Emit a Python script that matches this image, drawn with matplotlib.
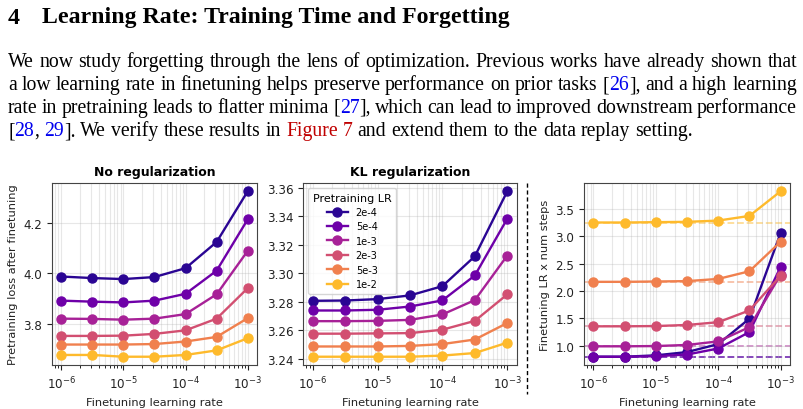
import matplotlib
matplotlib.use('Agg')
import matplotlib.pyplot as plt
from matplotlib.lines import Line2D

# finetuning learning rates (x axis) and pretraining learning rates (series)
ft_lr = [1e-6, 3.16e-6, 1e-5, 3.16e-5, 1e-4, 3.16e-4, 1e-3]
pre_lr = ['2e-4', '5e-4', '1e-3', '2e-3', '5e-3', '1e-2']

# pretraining loss after finetuning, no regularization
loss_noreg = [
    [3.988, 3.982, 3.978, 3.986, 4.021, 4.124, 4.324],
    [3.893, 3.889, 3.886, 3.893, 3.920, 4.011, 4.213],
    [3.822, 3.821, 3.818, 3.822, 3.840, 3.918, 4.089],
    [3.754, 3.754, 3.755, 3.762, 3.776, 3.822, 3.942],
    [3.720, 3.720, 3.720, 3.722, 3.732, 3.750, 3.824],
    [3.679, 3.679, 3.672, 3.672, 3.679, 3.697, 3.745],
]

# pretraining loss after finetuning, KL regularization
loss_kl = [
    [3.2807, 3.2809, 3.2819, 3.2845, 3.2910, 3.3120, 3.3577],
    [3.2739, 3.2739, 3.2744, 3.2767, 3.2810, 3.2985, 3.3384],
    [3.2664, 3.2664, 3.2666, 3.2673, 3.2711, 3.2812, 3.3125],
    [3.2576, 3.2576, 3.2578, 3.2580, 3.2604, 3.2666, 3.2852],
    [3.2486, 3.2486, 3.2486, 3.2490, 3.2503, 3.2535, 3.2651],
    [3.2414, 3.2414, 3.2414, 3.2414, 3.2422, 3.2440, 3.2513],
]

# finetuning LR x num steps
lr_steps = [
    [0.80, 0.80, 0.825, 0.885, 1.03, 1.495, 3.06],
    [0.80, 0.80, 0.81, 0.84, 0.95, 1.25, 2.44],
    [0.99, 0.99, 0.995, 1.015, 1.08, 1.34, 2.30],
    [1.355, 1.355, 1.36, 1.38, 1.43, 1.645, 2.28],
    [2.167, 2.167, 2.173, 2.18, 2.22, 2.36, 2.90],
    [3.25, 3.25, 3.256, 3.262, 3.285, 3.37, 3.82],
]

cmap = plt.get_cmap('plasma')
colors = [cmap(0.05 + 0.16 * i) for i in range(len(pre_lr))]

W, H = 804, 410
fig = plt.figure(figsize=(W / 100, H / 100), dpi=100)
renderer = fig.canvas.get_renderer()


def fpos(x, y):
    return x / W, 1 - y / H


def width(t):
    return t.get_window_extent(renderer).width


# ---- section heading and paragraph ----
head = dict(family='Liberation Serif', fontsize=17.2, weight='bold', va='baseline')
fig.text(*fpos(8, 23.5), '4', **head)
fig.text(*fpos(42, 23.5), 'Learning Rate: Training Time and Forgetting', **head)

K, B, R = 'black', '#0000ee', '#c00000'
para = [
    [('We now study forgetting through the lens of optimization. Previous works have already shown that', K)],
    [('a low learning rate in finetuning helps preserve performance on prior tasks [', K), ('26', B),
     ('], and a high learning', K)],
    [('rate in pretraining leads to flatter minima [', K), ('27', B),
     ('], which can lead to improved downstream performance', K)],
    [('[', K), ('28', B), (', ', K), ('29', B), ('].  We verify these results in ', K), ('Figure 7', R),
     (' and extend them to the data replay setting.', K)],
]
body = dict(family='Liberation Serif', fontsize=14.2, va='baseline')


def split_words(segs):
    words, cur = [], []
    for text, color in segs:
        for i, p in enumerate(text.split(' ')):
            if i > 0 and cur:
                words.append(cur)
                cur = []
            if p:
                cur.append((p, color))
    if cur:
        words.append(cur)
    return words


t1 = fig.text(0, 0, 'a a', **body)
t2 = fig.text(0, 0, 'aa', **body)
space = width(t1) - width(t2)
t1.remove()
t2.remove()

# justified lines, the last one left aligned
x_left, x_right = 8, 797
for li, segs in enumerate(para):
    y = 67 + 23 * li
    words = split_words(segs)
    placed = []
    for w in words:
        pieces = [(fig.text(0, 0, s, color=c, **body)) for s, c in w]
        placed.append(pieces)
    wsum = [sum(width(p) for p in pieces) for pieces in placed]
    if li < len(para) - 1:
        gap = (x_right - x_left - sum(wsum)) / (len(words) - 1)
    else:
        gap = space
    x = x_left
    for pieces, ww in zip(placed, wsum):
        xx = x
        for p in pieces:
            p.set_position(fpos(xx, y))
            xx += width(p)
        x += ww + gap

# ---- plots ----
axes_px = [(52, 257), (303, 517), (584, 790)]
top, bottom = 184, 366
axs = []
for l, r in axes_px:
    axs.append(fig.add_axes([l / W, 1 - bottom / H, (r - l) / W, (bottom - top) / H]))

for ax, data in zip(axs, [loss_noreg, loss_kl, lr_steps]):
    for vals, lab, c in zip(data, pre_lr, colors):
        ax.plot(ft_lr, vals, '-o', color=c, lw=1.7, ms=6.5, label=lab)
    ax.set_xscale('log')
    ax.set_xticks([1e-6, 1e-5, 1e-4, 1e-3])
    ax.grid(True, which='both', color='#b0b0b0', alpha=0.3, lw=0.8)
    ax.set_xlabel('Finetuning learning rate', fontsize=8.2, color='#222222')
    ax.tick_params(labelsize=8.6, colors='#222222')
    for s in ax.spines.values():
        s.set_color('#444444')

# dashed reference lines at each series' starting value
for vals, c in zip(lr_steps, colors):
    axs[2].axhline(vals[0], color=c, ls='--', lw=1.3, alpha=0.5, zorder=1)

axs[0].set_yticks([3.8, 4.0, 4.2])
axs[2].set_yticks([1.0, 1.5, 2.0, 2.5, 3.0, 3.5])

axs[0].set_title('No regularization', fontsize=9, weight='bold')
axs[1].set_title('KL regularization', fontsize=9, weight='bold')
axs[0].set_ylabel('Pretraining loss after finetuning', fontsize=8.2, color='#222222')
axs[2].set_ylabel('Finetuning LR x num steps', fontsize=8.2, color='#222222')

axs[1].legend(loc='upper left', title='Pretraining LR', fontsize=7, title_fontsize=8,
              handlelength=2.2, borderpad=0.5, labelspacing=0.45)

# dashed separator between panels
fig.add_artist(Line2D([527 / W, 527 / W], [1 - 184 / H, 1 - 395 / H], transform=fig.transFigure,
                      color='black', ls=(0, (3, 2)), lw=1))

fig.savefig('out.png', dpi=100)
